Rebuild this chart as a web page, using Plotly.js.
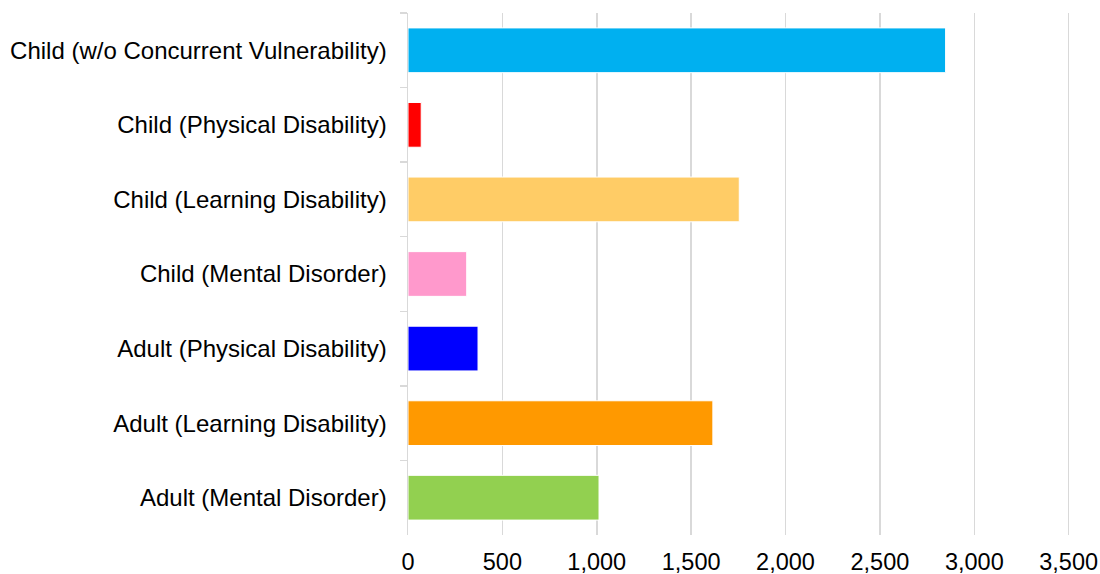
<!DOCTYPE html>
<html>
<head>
<meta charset="utf-8">
<script src="https://cdn.plot.ly/plotly-3.0.1.min.js"></script>
<style>html,body{margin:0;padding:0;background:#fff;}#chart{width:1100px;height:574px;}</style>
</head>
<body>
<div id="chart"></div>
<script>
const categories = [
  "Child (w/o Concurrent Vulnerability)",
  "Child (Physical Disability)",
  "Child (Learning Disability)",
  "Child (Mental Disorder)",
  "Adult (Physical Disability)",
  "Adult (Learning Disability)",
  "Adult (Mental Disorder)"
];
const values = [2848, 70, 1755, 311, 371, 1615, 1012];
const barColors = ["#00B0F0", "#FF0000", "#FFCC66", "#FF99CC", "#0000FF", "#FF9900", "#92D050"];
const xTickVals = [0, 500, 1000, 1500, 2000, 2500, 3000, 3500];
const xTickText = ["0", "500", "1,000", "1,500", "2,000", "2,500", "3,000", "3,500"];

const trace = {
  type: "bar",
  orientation: "h",
  y: categories,
  x: values,
  marker: { color: barColors, line: { color: "#ffffff", width: 1 } },
  hoverinfo: "x+y"
};

const layout = {
  width: 1100,
  height: 574,
  margin: { l: 408, r: 30, t: 13, b: 39, pad: 0 },
  paper_bgcolor: "#ffffff",
  plot_bgcolor: "#ffffff",
  font: { family: "Liberation Sans, Arial, sans-serif", size: 23, color: "#000000" },
  showlegend: false,
  bargap: 0.4,
  xaxis: {
    range: [0, 3507],
    tickvals: xTickVals,
    ticktext: xTickText,
    showgrid: true,
    gridcolor: "#d9d9d9",
    gridwidth: 1.5,
    zeroline: false,
    showline: false,
    ticks: "",
    automargin: false,
    ticklabelstandoff: 10,
    tickfont: { size: 23.5, color: "#000000" },
    fixedrange: true
  },
  yaxis: {
    type: "category",
    autorange: "reversed",
    showgrid: false,
    showline: true,
    linecolor: "#d9d9d9",
    linewidth: 1.5,
    ticks: "outside",
    tickson: "boundaries",
    ticklen: 7,
    tickcolor: "#d9d9d9",
    tickwidth: 1.5,
    automargin: false,
    ticklabelstandoff: 15,
    tickfont: { size: 24, color: "#000000" },
    fixedrange: true
  }
};

Plotly.newPlot("chart", [trace], layout, { displayModeBar: false, staticPlot: true });
</script>
</body>
</html>
